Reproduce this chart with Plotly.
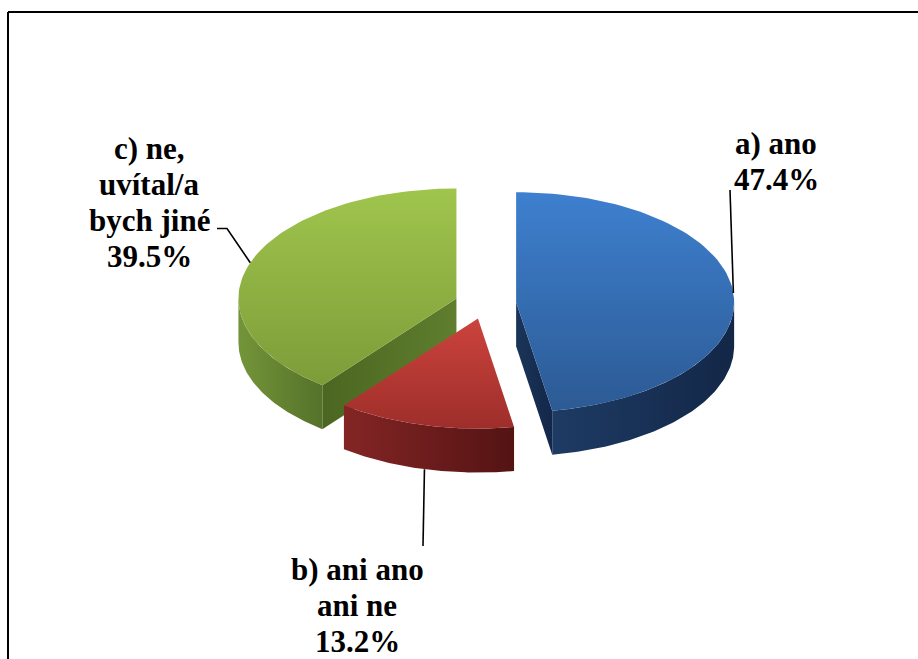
import numpy as np
import plotly.graph_objects as go

# ---------------- data ----------------
categories = ["a) ano", "b) ani ano ani ne", "c) ne, uvítal/a bych jiné"]
values = [47.4, 13.2, 39.5]
label_lines = [
    ["a) ano", "47.4%"],
    ["b) ani ano", "ani ne", "13.2%"],
    ["c) ne,", "uvítal/a", "bych jiné", "39.5%"],
]

# ---------------- styles / layout ----------------
W, H = 918, 659
top_colors = [("#3E80CF", "#2C5A94"), ("#CC433D", "#9E2E2A"), ("#A0C54D", "#7C9C39")]
side_colors = [("#1E3B64", "#132747"), ("#842525", "#541313"), ("#739539", "#55722A")]
cut_colors = [("#1A3558", "#13274A"), ("#6E1D1D", "#5A1616"), ("#4B6621", "#5F7E2E")]

CX, CY = 485.5, 303.5     # pie centre (pixels)
RA, RB = 218, 110         # ellipse radii
DEPTH = 44                # thickness
EXPLODE = 0.141           # explode fraction
NPTS = 90

FONT = dict(family="Times New Roman, Liberation Serif, DejaVu Serif, serif", size=31, color="black")
LINE_PITCH = 36
# label centre x, baseline of first line
label_pos = [(776, 153), (357, 579), (149, 158.5)]
# leader line end near the label (list of points before the slice anchor)
leader_ends = [
    [(730, 190)],
    [(423, 546)],
    [(217, 228.5), (227, 228.5)],
]

total = float(sum(values))
fracs = [v / total for v in values]
starts = np.concatenate([[0.0], np.cumsum(fracs)[:-1]]) * 360.0
ends = np.cumsum(fracs) * 360.0


def apex_of(i):
    mid = np.radians((starts[i] + ends[i]) / 2)
    return CX + EXPLODE * RA * np.sin(mid), CY - EXPLODE * RB * np.cos(mid)


def rim(ax, ay, th_deg, dz=0.0):
    t = np.radians(th_deg)
    return ax + RA * np.sin(t), ay - RB * np.cos(t) + dz


fig = go.Figure()


def add_poly(xs, ys, c1, c2, orient):
    xs = np.asarray(xs, float)
    ys = np.asarray(ys, float)
    if orient == "vertical":
        s, e = float(ys.min()), float(ys.max())
    else:
        s, e = float(xs.min()), float(xs.max())
    fig.add_trace(go.Scatter(
        x=np.append(xs, xs[0]), y=np.append(ys, ys[0]),
        mode="lines", fill="toself",
        fillgradient=dict(type=orient, colorscale=[[0, c1], [1, c2]], start=s, stop=e),
        line=dict(width=0, color=c2),
        hoverinfo="skip", showlegend=False,
    ))


draw_order = [2, 0, 1]
anchors = {}
for i in draw_order:
    ax, ay = apex_of(i)
    t0, t1 = starts[i], ends[i]
    # cut faces
    for th, nrm in ((t0, t0 - 90), (t1, t1 + 90)):
        if np.cos(np.radians(nrm)) < -1e-6:
            rx, ry = rim(ax, ay, th)
            add_poly([ax, rx, rx, ax], [ay, ry, ry + DEPTH, ay + DEPTH],
                     cut_colors[i][0], cut_colors[i][1], "horizontal")
    # outer side (front half only)
    lo, hi = max(t0, 90.0), min(t1, 270.0)
    if hi > lo:
        th = np.linspace(lo, hi, NPTS)
        x1, y1 = rim(ax, ay, th)
        x2, y2 = rim(ax, ay, th[::-1], DEPTH)
        add_poly(np.concatenate([x1, x2]), np.concatenate([y1, y2]),
                 side_colors[i][0], side_colors[i][1], "horizontal")
    # top face
    th = np.linspace(t0, t1, NPTS)
    x1, y1 = rim(ax, ay, th)
    add_poly(np.concatenate([[ax], x1]), np.concatenate([[ay], y1]),
             top_colors[i][0], top_colors[i][1], "vertical")
    # leader anchor on the rim at mid angle
    mid = (t0 + t1) / 2
    dz = DEPTH if 90 < mid < 270 and abs(mid - 180) < 60 else 0
    anchors[i] = rim(ax, ay, mid, dz)

# leader lines
for i in range(len(values)):
    pts = leader_ends[i] + [anchors[i]]
    fig.add_trace(go.Scatter(
        x=[p[0] for p in pts], y=[p[1] for p in pts], mode="lines",
        line=dict(color="black", width=1.6), hoverinfo="skip", showlegend=False,
    ))

# labels
for i, lines in enumerate(label_lines):
    lx, by = label_pos[i]
    for k, txt in enumerate(lines):
        fig.add_annotation(
            x=lx, y=by + k * LINE_PITCH - 10, xref="x", yref="y",
            text="<b>" + txt + "</b>", showarrow=False,
            xanchor="center", yanchor="middle", font=FONT,
        )

# frame
fig.add_shape(type="line", xref="x", yref="y", x0=8, x1=8, y0=12, y1=H,
              line=dict(color="black", width=2))
fig.add_shape(type="line", xref="x", yref="y", x0=8, x1=W, y0=12, y1=12,
              line=dict(color="black", width=2))

fig.update_layout(
    width=W, height=H,
    margin=dict(l=0, r=0, t=0, b=0),
    paper_bgcolor="white", plot_bgcolor="white",
    font=dict(family="Times New Roman, Liberation Serif, DejaVu Serif, serif"),
    xaxis=dict(range=[0, W], visible=False, fixedrange=True),
    yaxis=dict(range=[H, 0], visible=False, fixedrange=True),
    showlegend=False,
)

fig.write_html("out.html")
